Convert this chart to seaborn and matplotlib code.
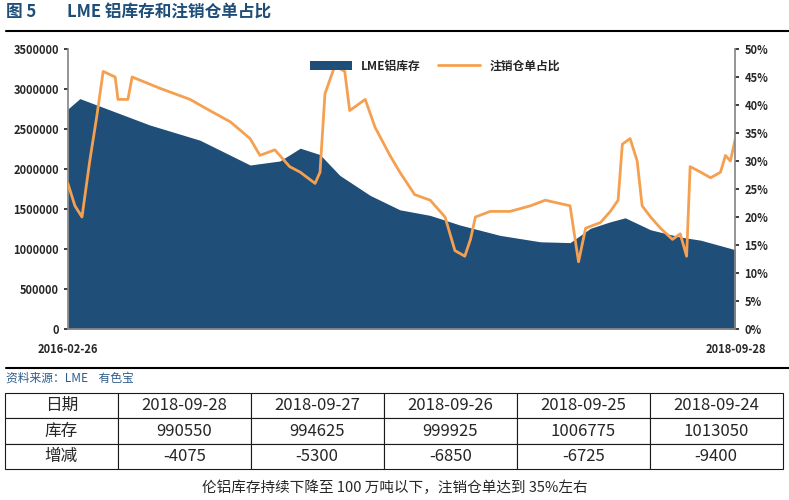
import matplotlib.pyplot as plt
import matplotlib.ticker as mticker
import numpy as np
import pandas as pd
import seaborn as sns

START = "2016-02-26"

# LME aluminium stock (tonnes), days since start
stock_days = [0, 17, 116, 187, 258, 300, 329, 357, 385, 428, 470, 513, 555,
              612, 669, 711, 740, 768, 789, 825, 867, 896, 945]
stock_vals = [2750000, 2880000, 2550000, 2360000, 2050000, 2100000, 2260000,
              2180000, 1920000, 1670000, 1490000, 1420000, 1300000, 1170000,
              1090000, 1080000, 1260000, 1340000, 1390000, 1240000, 1150000,
              1110000, 990550]

# cancelled warrants share (%), days since start
ratio_days = [0, 10, 20, 31, 41, 50, 67, 71, 85, 91, 130, 173, 201, 230, 258,
              272, 293, 314, 329, 350, 357, 364, 378, 392, 399, 421, 435, 456,
              470, 491, 513, 534, 548, 562, 570, 577, 598, 626, 655, 676, 711,
              723, 733, 754, 768, 779, 785, 796, 806, 813, 825, 839, 856, 867,
              876, 881, 896, 910, 924, 931, 938, 945]
ratio_vals = [26, 22, 20, 30, 38, 46, 45, 41, 41, 45, 43, 41, 39, 37, 34, 31,
              32, 29, 28, 26, 28, 42, 47, 46, 39, 41, 36, 31, 28, 24, 23, 20,
              14, 13, 16, 20, 21, 21, 22, 23, 22, 12, 18, 19, 21, 23, 33, 34,
              30, 22, 20, 18, 16, 17, 13, 29, 28, 27, 28, 31, 30, 34]

table_header = ["日期", "2018-09-28", "2018-09-27", "2018-09-26", "2018-09-25", "2018-09-24"]
table_stock = ["库存", "990550", "994625", "999925", "1006775", "1013050"]
table_change = ["增减", "-4075", "-5300", "-6850", "-6725", "-9400"]

sns.set_theme(style="white")
plt.rcParams["font.family"] = ["Noto Sans CJK SC", "DejaVu Sans"]

start = pd.Timestamp(START)
stock_df = pd.DataFrame({"date": start + pd.to_timedelta(stock_days, unit="D"), "v": stock_vals})
ratio_df = pd.DataFrame({"date": start + pd.to_timedelta(ratio_days, unit="D"), "v": ratio_vals})

BLUE = "#1f4e79"
fig = plt.figure(figsize=(7.89, 5.0), dpi=100)

fig.text(0.008, 0.975, "图 5", color=BLUE, fontsize=12, fontweight="bold", va="center")
fig.text(0.085, 0.975, "LME 铝库存和注销仓单占比", color=BLUE, fontsize=12,
         fontweight="bold", va="center")
fig.add_artist(plt.Line2D([0.008, 1.0], [0.938, 0.938], color="black", lw=1.5))
fig.add_artist(plt.Line2D([0.008, 1.0], [0.264, 0.264], color="black", lw=1.5))
fig.text(0.008, 0.244, "资料来源：LME    有色宝", color="#2e5c8a", fontsize=8.5,
         style="italic", va="center")

ax = fig.add_axes([0.086, 0.342, 0.846, 0.56])
ax.fill_between(stock_df["date"], stock_df["v"], color=BLUE, lw=0, label="LME铝库存")
ax.set_ylim(0, 3500000)
ax.set_xlim(stock_df["date"].iloc[0], stock_df["date"].iloc[-1])
ax.yaxis.set_major_locator(mticker.MultipleLocator(500000))
ax.yaxis.set_major_formatter(mticker.FuncFormatter(lambda v, _: f"{v:.0f}"))
ax.set_xticks([stock_df["date"].iloc[0], stock_df["date"].iloc[-1]])
ax.set_xticklabels(["2016-02-26", "2018-09-28"], fontsize=8, fontweight="bold")
ax.tick_params(axis="x", length=0, pad=10)
ax.tick_params(axis="y", labelsize=8, length=3, direction="out", left=True)
for lbl in ax.get_yticklabels():
    lbl.set_fontweight("bold")
for s in ["top", "right"]:
    ax.spines[s].set_visible(False)
ax.spines["left"].set_color("#888888")
ax.spines["bottom"].set_color("#888888")

ax2 = ax.twinx()
sns.lineplot(data=ratio_df, x="date", y="v", ax=ax2, color="#f5a050", lw=2,
             label="注销仓单占比", legend=False)
ax2.set_ylim(0, 50)
ax2.yaxis.set_major_locator(mticker.MultipleLocator(5))
ax2.yaxis.set_major_formatter(mticker.FuncFormatter(lambda v, _: f"{v:.0f}%"))
ax2.set_ylabel("")
ax2.set_xlabel("")
ax.set_xlabel("")
ax2.tick_params(axis="y", labelsize=8, length=3, direction="out", right=True)
for lbl in ax2.get_yticklabels():
    lbl.set_fontweight("bold")
for s in ["top", "left", "bottom"]:
    ax2.spines[s].set_visible(False)
ax2.spines["right"].set_color("#888888")

h1, l1 = ax.get_legend_handles_labels()
h2, l2 = ax2.get_legend_handles_labels()
ax2.legend(h1 + h2, l1 + l2, loc="upper center", bbox_to_anchor=(0.55, 1.0),
           ncol=2, frameon=False, prop={"size": 8.5, "weight": "bold"},
           handlelength=3.5, columnspacing=1.5)

tax = fig.add_axes([0.006, 0.062, 0.986, 0.152])
tax.axis("off")
tbl = tax.table(cellText=[table_header, table_stock, table_change],
                cellLoc="center", bbox=[0, 0, 1, 1],
                colWidths=[113, 133, 133, 133, 133, 133])
tbl.auto_set_font_size(False)
tbl.set_fontsize(12)
for cell in tbl.get_celld().values():
    cell.set_linewidth(0.8)

fig.text(0.5, 0.025, "伦铝库存持续下降至 100 万吨以下，注销仓单达到 35%左右",
         ha="center", va="center", fontsize=10.5)

fig.savefig("out.png", dpi=100)
